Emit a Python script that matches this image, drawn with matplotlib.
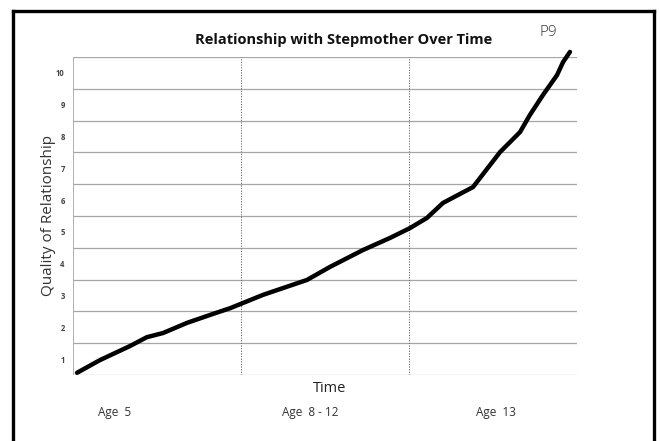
import matplotlib
matplotlib.use("Agg")
import matplotlib.pyplot as plt
from matplotlib.lines import Line2D

# ---- data ----
time_pos = [0.024, 0.161, 0.339, 0.440, 0.536, 0.679, 0.833, 0.935, 1.131, 1.393,
            1.530, 1.726, 1.887, 2.006, 2.107, 2.202, 2.381, 2.542, 2.661, 2.720,
            2.798, 2.881, 2.917, 2.958]
quality = [0.57, 0.97, 1.41, 1.69, 1.82, 2.14, 2.42, 2.60, 3.02, 3.49,
           3.90, 4.43, 4.81, 5.12, 5.44, 5.91, 6.41, 7.51, 8.14, 8.68,
           9.31, 9.93, 10.34, 10.66]
y_ticks = [1, 2, 3, 4, 5, 6, 7, 8, 9, 10]
age_labels = ["Age  5", "Age  8 - 12", "Age  13"]
age_pos = [0.25, 1.41, 2.52]
period_bounds = [1, 2]

plt.rcParams['font.family'] = ['Open Sans', 'DejaVu Sans']

fig = plt.figure(figsize=(6.6, 4.41), dpi=100)
fig.patch.set_facecolor("white")

# outer frame (left, top, right)
fx0, fx1, fy1 = 13 / 660, 654 / 660, 1 - 11 / 441
for xs, ys in [([fx0, fx0], [0, fy1]), ([fx0, fx1], [fy1, fy1]), ([fx1, fx1], [fy1, 0])]:
    fig.add_artist(Line2D(xs, ys, transform=fig.transFigure, color="black", lw=2.4))

ax = fig.add_axes([73 / 660, 1 - 375 / 441, 504 / 660, 318 / 441])
ax.set_xlim(0, 3)
ax.set_ylim(0.5, 10.5)
for s in ax.spines.values():
    s.set_visible(False)

# horizontal rule lines between value bands
for yv in [v - 0.5 for v in y_ticks] + [10.5]:
    ax.axhline(yv, color="#a6a6a6", lw=0.9, zorder=1)
ax.axvline(0, color="#b0b0b0", lw=0.7, zorder=1)
for b in period_bounds:
    ax.axvline(b, color="#666666", lw=0.7, ls=(0, (1.2, 1.5)), zorder=1)

ax.plot(time_pos, quality, color="black", lw=3.2, solid_capstyle="round",
        solid_joinstyle="round", clip_on=False, zorder=3)

ax.set_yticks(y_ticks)
ax.set_yticklabels([str(t) for t in y_ticks], fontsize=5.5, fontweight="bold", color="#444444")
ax.tick_params(axis="y", length=0, pad=6)
ax.set_xticks([])

ax.set_ylabel("Quality of Relationship", fontsize=11, color="#333333", labelpad=0)
ax.text(1.53, -0.042, "Time", transform=ax.get_xaxis_transform(), ha="center", va="center",
        fontsize=10.5, color="#222222")
for lab, xp in zip(age_labels, age_pos):
    ax.text(xp, -0.117, lab, transform=ax.get_xaxis_transform(), ha="center", va="center",
            fontsize=8.5, color="#333333")

ax.text(0.536, 1.053, "Relationship with Stepmother Over Time", transform=ax.transAxes,
        ha="center", va="center", fontsize=10.5, fontweight="bold", color="#111111")
ax.text(548 / 660, 1 - 33 / 441, "P9", transform=fig.transFigure, ha="center", va="center",
        fontsize=11, color="#333333", fontweight="light")

fig.savefig("out.png", dpi=100, facecolor="white")
